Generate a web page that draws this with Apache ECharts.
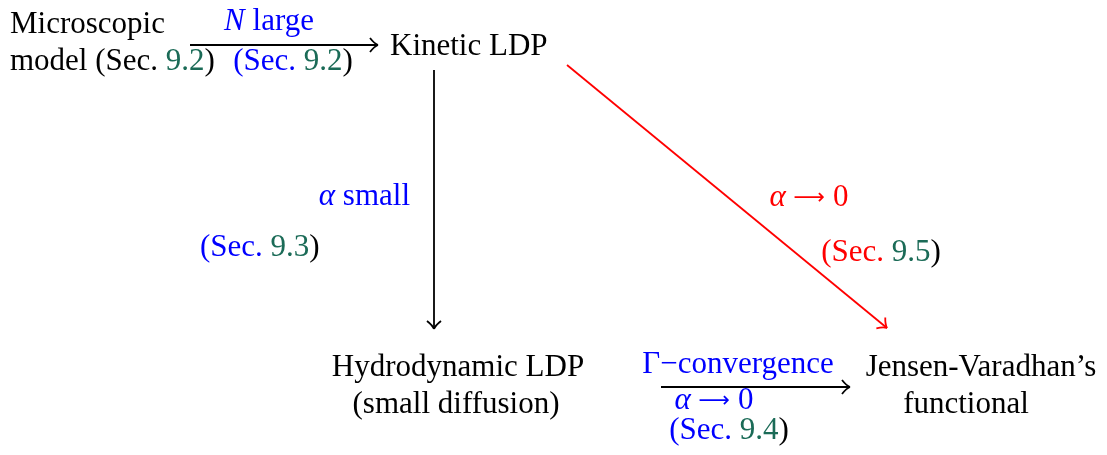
<!DOCTYPE html>
<html>
<head>
<meta charset="utf-8">
<title>LDP diagram</title>
<script src="https://cdn.jsdelivr.net/npm/echarts@6/dist/echarts.min.js"></script>
<style>
html, body { margin: 0; padding: 0; background: #fff; }
#chart { width: 1107px; height: 455px; }
</style>
</head>
<body>
<div id="chart"></div>
<script>
// diagram coordinates: 1107 x 455, y going down
const labelText = [
  '{k|Microscopic}',
  '{k|model (Sec. }{g|9.2}{k|)}',
  '{bi|N}{b| large}',
  '{b|(Sec. }{g|9.2}{k|)}',
  '{k|Kinetic LDP}',
  '{bi|α}{b| small}',
  '{b|(Sec. }{g|9.3}{k|)}',
  '{ri|α}{r| }{ra|⟶}{r| 0}',
  '{r|(Sec. }{g|9.5}{k|)}',
  '{k|Hydrodynamic LDP}',
  '{k|(small diffusion)}',
  '{b|Γ−convergence}',
  '{bi|α}{b| }{ba|⟶}{b| 0}',
  '{b|(Sec. }{g|9.4}{k|)}',
  '{k|Jensen-Varadhan’s}',
  '{k|functional}'
];
const labelX = [10, 10, 269, 293, 390, 410, 200, 809, 881, 458, 456, 738, 714, 729, 981, 966];
const labelY = [25, 62, 22, 62, 47, 197, 248, 198, 253, 368, 405, 365, 401, 431, 368, 405];
const labelAnchor = ['left', 'left', 'center', 'center', 'left', 'right', 'left', 'center',
  'center', 'center', 'center', 'center', 'center', 'center', 'center', 'center'];

// arrows: from -> to
const arrowFrom = [[190, 45], [434, 70], [567, 65], [661, 387]];
const arrowTo = [[378, 45], [434, 329], [887, 328], [850, 387]];
const arrowColor = ['#000', '#000', '#ff0000', '#000'];

const FONT = 'Liberation Serif';
const SIZE = 31;
function tok(color, italic, family, size) {
  return {
    fill: color,
    fontFamily: family || FONT,
    fontSize: size || SIZE,
    fontStyle: italic ? 'italic' : 'normal',
    lineHeight: 37
  };
}
const rich = {
  k: tok('#000'),
  b: tok('#0000ff'),
  bi: tok('#0000ff', true),
  ba: tok('#0000ff', false, 'DejaVu Sans', 22),
  r: tok('#ff0000'),
  ri: tok('#ff0000', true),
  ra: tok('#ff0000', false, 'DejaVu Sans', 22),
  g: tok('#1b6b57')
};

const chart = echarts.init(document.getElementById('chart'));

const option = {
  animation: false,
  grid: { left: 0, right: 0, top: 0, bottom: 0 },
  xAxis: { type: 'value', min: 0, max: 1107, show: false },
  yAxis: { type: 'value', min: 0, max: 455, inverse: true, show: false },
  series: [
    {
      type: 'custom',
      clip: false,
      silent: true,
      data: arrowFrom.map((f, i) => [f[0], f[1], arrowTo[i][0], arrowTo[i][1], i]),
      renderItem: function (params, api) {
        const a = api.coord([api.value(0), api.value(1)]);
        const b = api.coord([api.value(2), api.value(3)]);
        const c = arrowColor[api.value(4)];
        const dx = b[0] - a[0], dy = b[1] - a[1];
        const len = Math.hypot(dx, dy);
        const ux = dx / len, uy = dy / len;
        const nx = -uy, ny = ux;
        const L = 8, W = 7;
        const st = { stroke: c, lineWidth: 1.8, fill: null };
        function barb(s) {
          return {
            type: 'bezierCurve',
            shape: {
              x1: b[0], y1: b[1],
              x2: b[0] - L * ux + s * W * nx, y2: b[1] - L * uy + s * W * ny,
              cpx1: b[0] - L * 0.45 * ux + s * W * 0.2 * nx,
              cpy1: b[1] - L * 0.45 * uy + s * W * 0.2 * ny
            },
            style: st
          };
        }
        return {
          type: 'group',
          children: [
            { type: 'line', shape: { x1: a[0], y1: a[1], x2: b[0], y2: b[1] }, style: st },
            barb(1),
            barb(-1)
          ]
        };
      }
    },
    {
      type: 'custom',
      clip: false,
      silent: true,
      data: labelX.map((x, i) => [x, labelY[i], i]),
      renderItem: function (params, api) {
        const i = api.value(2);
        const p = api.coord([api.value(0), api.value(1)]);
        return {
          type: 'text',
          x: p[0],
          y: p[1],
          style: {
            text: labelText[i],
            rich: rich,
            fontFamily: FONT,
            fontSize: SIZE,
            align: labelAnchor[i],
            verticalAlign: 'middle'
          }
        };
      }
    }
  ]
};

chart.setOption(option);
</script>
</body>
</html>
